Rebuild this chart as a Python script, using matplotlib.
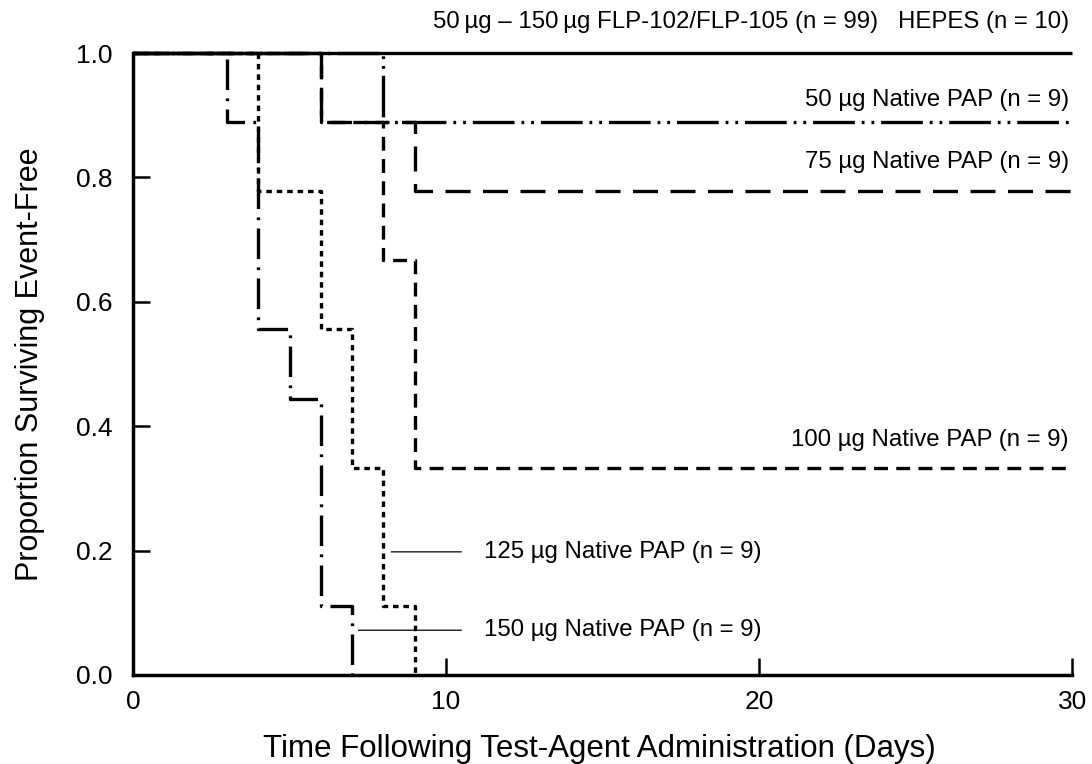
import matplotlib
matplotlib.use("Agg")
import matplotlib.pyplot as plt

plt.rcParams['font.family'] = ['Liberation Sans', 'DejaVu Sans']
plt.rcParams['lines.scale_dashes'] = False

# Kaplan-Meier step data: event days and survival after each event
control_days = []
control_surv = []
pap50_days = [8]
pap50_surv = [0.889]
pap75_days = [6, 9]
pap75_surv = [0.889, 0.778]
pap100_days = [6, 8, 9]
pap100_surv = [0.889, 0.667, 0.333]
pap125_days = [4, 6, 7, 8, 9]
pap125_surv = [0.778, 0.556, 0.333, 0.111, 0.0]
pap150_days = [3, 4, 5, 6, 7]
pap150_surv = [0.889, 0.556, 0.444, 0.111, 0.0]

labels = [
    "50\u202fµg \u2013 150\u202fµg FLP-102/FLP-105 (n = 99)   HEPES (n = 10)",
    "50 µg Native PAP (n = 9)",
    "75 µg Native PAP (n = 9)",
    "100 µg Native PAP (n = 9)",
    "125 µg Native PAP (n = 9)",
    "150 µg Native PAP (n = 9)",
]
x_ticks = [0, 10, 20, 30]
y_ticks = [0.0, 0.2, 0.4, 0.6, 0.8, 1.0]
END = 30

fig = plt.figure(figsize=(10.92, 7.64), dpi=100)
ax = fig.add_axes([0.1218, 0.1165, 0.86, 0.814])


def km(days, surv):
    xs, ys = [0], [1.0]
    for d, s in zip(days, surv):
        xs.append(d)
        ys.append(s)
    if ys[-1] > 0:
        xs.append(END)
        ys.append(ys[-1])
    return xs, ys


styles = [
    (control_days, control_surv, (0, ())),
    (pap50_days, pap50_surv, (0, (30, 5, 2, 5, 2, 5))),
    (pap75_days, pap75_surv, (0, (18, 9))),
    (pap100_days, pap100_surv, (0, (10, 6))),
    (pap125_days, pap125_surv, (0, (4, 3.5))),
    (pap150_days, pap150_surv, (0, (22, 6, 2, 6))),
]
for days, surv, ls in styles:
    xs, ys = km(days, surv)
    ax.step(xs, ys, where='post', color='black', lw=2.4, linestyle=ls,
            clip_on=False, solid_capstyle='butt', dash_capstyle='butt')

ax.set_xlim(0, 30)
ax.set_ylim(0, 1.0)
ax.set_xticks(x_ticks)
ax.set_yticks(y_ticks)
ax.set_yticklabels([f"{v:.1f}" for v in y_ticks])
ax.tick_params(direction='in', length=12, width=1.8, labelsize=19)
ax.tick_params(axis='x', pad=11)
ax.tick_params(axis='y', pad=15)
for s in ['top', 'right']:
    ax.spines[s].set_visible(False)
for s in ['left', 'bottom']:
    ax.spines[s].set_linewidth(2.5)

ax.set_xlabel("Time Following Test-Agent Administration (Days)", fontsize=22.5)
ax.set_ylabel("Proportion Surviving Event-Free", fontsize=22)
ax.xaxis.set_label_coords(0.497, -0.095)
ax.yaxis.set_label_coords(-0.094, 0.5)

fs = 17.3
ax.text(29.9, 1.05, labels[0], ha='right', va='center', fontsize=fs, clip_on=False)
ax.text(29.9, 0.924, labels[1], ha='right', va='center', fontsize=fs)
ax.text(29.9, 0.825, labels[2], ha='right', va='center', fontsize=fs)
ax.text(29.9, 0.378, labels[3], ha='right', va='center', fontsize=fs)
ax.annotate(labels[4], xy=(8.25, 0.198), xytext=(11.2, 0.198), ha='left', va='center',
            fontsize=fs, arrowprops=dict(arrowstyle='-', color='black', lw=0.9,
                                         shrinkA=14, shrinkB=0))
ax.annotate(labels[5], xy=(7.2, 0.072), xytext=(11.2, 0.072), ha='left', va='center',
            fontsize=fs, arrowprops=dict(arrowstyle='-', color='black', lw=0.9,
                                         shrinkA=14, shrinkB=0))

fig.savefig("out.png", dpi=100)
